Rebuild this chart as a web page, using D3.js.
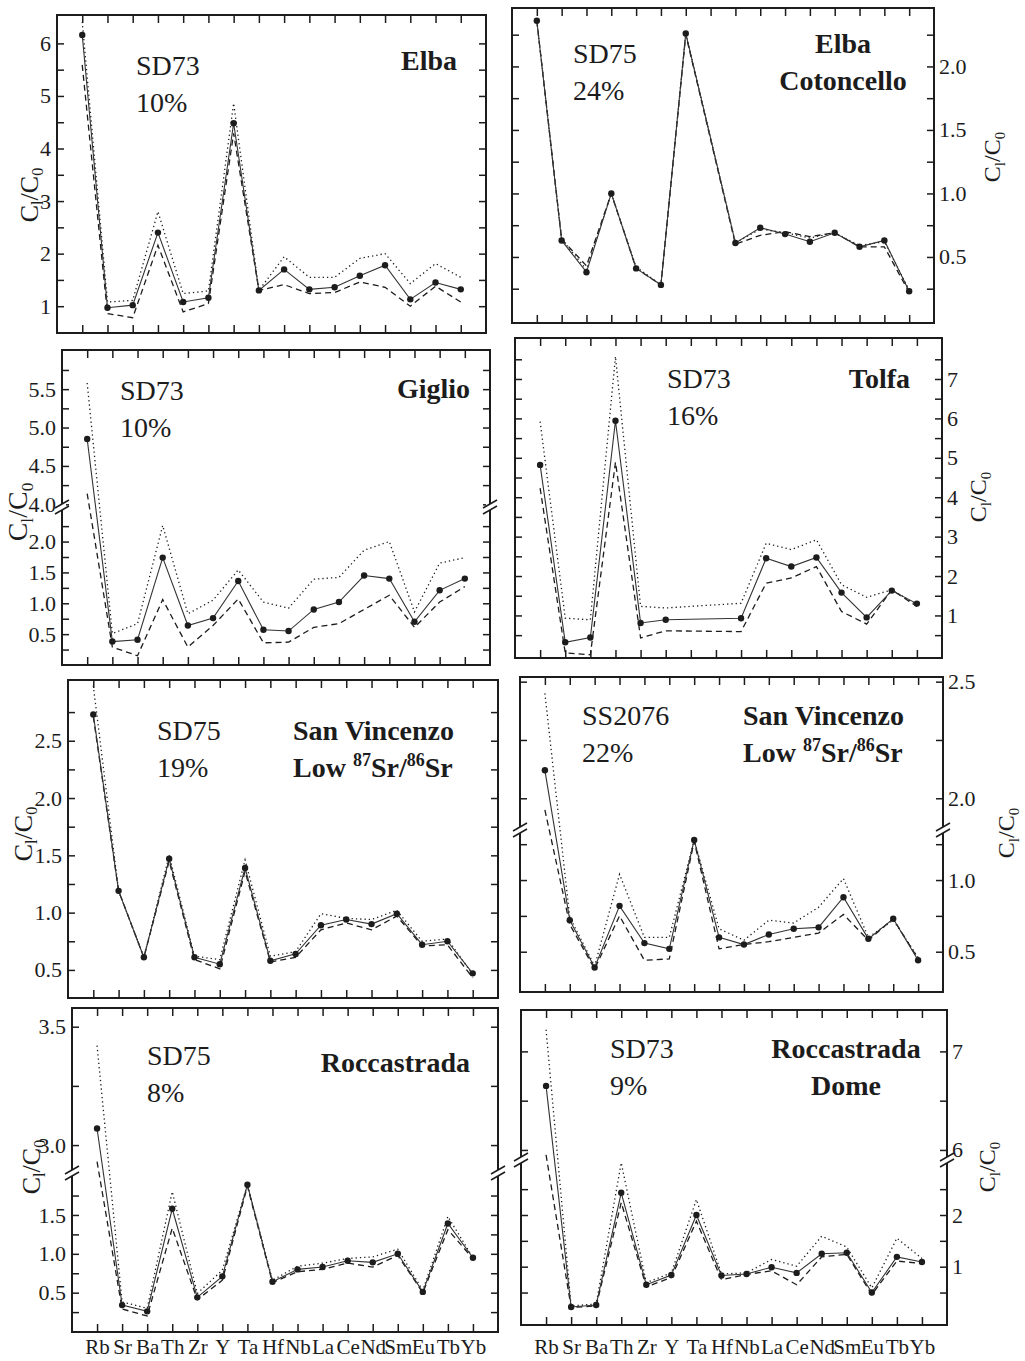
<!DOCTYPE html>
<html>
<head>
<meta charset="utf-8">
<script src="https://cdn.jsdelivr.net/npm/d3@7"></script>
<style>
  body { margin: 0; background: #fff; }
  svg { display: block; }
</style>
</head>
<body>
<svg id="fig" width="1025" height="1361"></svg>
<script>
// Trace elements along the x axis
const elements = ["Rb","Sr","Ba","Th","Zr","Y","Ta","Hf","Nb","La","Ce","Nd","Sm","Eu","Tb","Yb"];

// C_l/C_0 enrichment: mid model (solid, dots), upper bound (dotted), lower bound (dashed)
const elbaMid  = [6.16,0.97,1.02,2.40,1.08,1.16,4.48,1.30,1.70,1.32,1.36,1.58,1.78,1.13,1.45,1.32];
const elbaHigh = [6.41,1.08,1.11,2.80,1.24,1.29,4.86,1.30,1.94,1.55,1.55,1.91,2.00,1.43,1.81,1.55];
const elbaLow  = [5.59,0.86,0.78,2.16,0.89,1.05,4.29,1.30,1.41,1.24,1.26,1.46,1.36,1.00,1.38,1.08];

const cotoncelloMid  = [2.36,0.63,0.38,1.00,0.41,0.28,2.26,null,0.61,0.73,0.68,0.62,0.69,0.58,0.63,0.23];
const cotoncelloHigh = [2.36,0.64,0.40,1.00,0.42,0.28,2.26,null,0.61,0.72,0.69,0.65,0.69,0.59,0.62,0.24];
const cotoncelloLow  = [2.36,0.64,0.43,1.00,0.41,0.28,2.25,null,0.60,0.67,0.70,0.66,0.69,0.58,0.58,0.22];

const giglioMid  = [4.85,0.38,0.41,1.74,0.64,0.76,1.36,0.57,0.55,0.90,1.02,1.45,1.40,0.70,1.21,1.40];
const giglioHigh = [5.58,0.51,0.67,2.26,0.83,1.05,1.54,1.02,0.92,1.39,1.42,1.86,2.00,0.86,1.65,1.74];
const giglioLow  = [4.14,0.29,0.15,1.06,0.29,0.64,1.07,0.36,0.37,0.61,0.67,0.90,1.13,0.61,1.02,1.27];

const tolfaMid  = [4.82,0.32,0.44,5.94,0.81,0.89,null,null,0.93,2.45,2.24,2.47,1.58,0.95,1.63,1.30];
const tolfaHigh = [5.92,0.93,0.89,7.57,1.23,1.19,null,null,1.31,2.83,2.67,2.92,1.78,1.46,1.65,1.27];
const tolfaLow  = [4.23,0.05,0.00,4.89,0.43,0.61,null,null,0.59,1.82,1.95,2.24,1.10,0.78,1.65,1.23];

const sanVincenzoSD75Mid  = [2.73,1.19,0.61,1.47,0.61,0.55,1.39,0.58,0.64,0.89,0.94,0.90,0.99,0.72,0.75,0.47];
const sanVincenzoSD75High = [2.98,1.19,0.61,1.50,0.62,0.59,1.46,0.62,0.66,0.99,0.95,0.94,1.02,0.75,0.77,0.46];
const sanVincenzoSD75Low  = [2.71,1.19,0.61,1.45,0.59,0.51,1.36,0.57,0.61,0.85,0.91,0.85,0.97,0.71,0.72,0.43];

const sanVincenzoSS2076Mid  = [2.12,0.72,0.39,0.82,0.56,0.52,1.28,0.60,0.55,0.62,0.66,0.67,0.88,0.59,0.73,0.44];
const sanVincenzoSS2076High = [2.45,0.74,0.40,1.04,0.60,0.60,1.28,0.66,0.58,0.72,0.70,0.81,1.01,0.60,0.72,0.46];
const sanVincenzoSS2076Low  = [1.95,0.69,0.38,0.75,0.44,0.45,1.27,0.52,0.55,0.57,0.60,0.63,0.76,0.58,0.73,0.45];

const roccastradaMid  = [3.07,0.34,0.26,1.58,0.44,0.71,1.89,0.64,0.80,0.83,0.91,0.89,1.00,0.51,1.39,0.95];
const roccastradaHigh = [3.42,0.38,0.30,1.80,0.49,0.79,1.89,0.66,0.84,0.88,0.94,0.96,1.06,0.53,1.48,0.95];
const roccastradaLow  = [2.93,0.29,0.20,1.33,0.41,0.66,1.87,0.63,0.77,0.80,0.88,0.83,0.98,0.50,1.31,0.94];

const domeMid  = [6.65,0.22,0.26,2.43,0.65,0.84,2.00,0.83,0.86,0.99,0.88,1.25,1.27,0.50,1.19,1.09];
const domeHigh = [7.22,0.24,0.28,3.01,0.69,0.88,2.30,0.86,0.88,1.14,1.01,1.59,1.38,0.59,1.55,1.16];
const domeLow  = [5.95,0.21,0.24,2.24,0.61,0.79,1.88,0.75,0.85,0.92,0.65,1.19,1.24,0.46,1.11,1.06];

// Y tick values (all ticks) and the ones carrying a label
const elbaTicks = [1,1.5,2,2.5,3,3.5,4,4.5,5,5.5,6];
const elbaTickLabels = [1,2,3,4,5,6];
const cotoncelloTicks = [0.25,0.5,0.75,1,1.25,1.5,1.75,2,2.25];
const cotoncelloTickLabels = [0.5,1.0,1.5,2.0];
const giglioTicksLow = [0.25,0.5,0.75,1,1.25,1.5,1.75,2,2.25];
const giglioTickLabelsLow = [0.5,1.0,1.5,2.0];
const giglioTicksHigh = [4,4.25,4.5,4.75,5,5.25,5.5,5.75];
const giglioTickLabelsHigh = [4.0,4.5,5.0,5.5];
const tolfaTicks = [0.5,1,1.5,2,2.5,3,3.5,4,4.5,5,5.5,6,6.5,7,7.5];
const tolfaTickLabels = [1,2,3,4,5,6,7];
const svSD75Ticks = [0.5,0.75,1,1.25,1.5,1.75,2,2.25,2.5,2.75];
const svSD75TickLabels = [0.5,1.0,1.5,2.0,2.5];
const svSS2076TicksLow = [0.5,0.75,1,1.25];
const svSS2076TickLabelsLow = [0.5,1.0];
const svSS2076TicksHigh = [2,2.25,2.5];
const svSS2076TickLabelsHigh = [2.0,2.5];
const roccTicksLow = [0.25,0.5,0.75,1,1.25,1.5,1.75];
const roccTickLabelsLow = [0.5,1.0,1.5];
const roccTicksHigh = [3,3.25,3.5];
const roccTickLabelsHigh = [3.0,3.5];
const domeTicksLow = [0.5,1,1.5,2,2.5];
const domeTickLabelsLow = [1,2];
const domeTicksHigh = [6,6.5,7];
const domeTickLabelsHigh = [6,7];

const INK = "#1c1c1c";
const SERIF = "'Liberation Serif','Times New Roman',Times,serif";

// Panel layout: frame = [left, top, right, bottom]; segs = y-axis pieces (bottom first)
const panels = [
  { frame:[57,15,486,333], side:"left", fmt:"d",
    segs:[{d:[0.49,6.54], r:[333,15], ticks:elbaTicks, labels:elbaTickLabels}],
    mid:elbaMid, high:elbaHigh, low:elbaLow,
    sample:{x:136, y:75, lines:["SD73","10%"]},
    place:{x:457, y:70, anchor:"end", lines:[["Elba"]]},
    ylab:{x:29, y:195, size:26} },
  { frame:[512,8,934,323], side:"right", fmt:".1f",
    segs:[{d:[-0.02,2.46], r:[323,8], ticks:cotoncelloTicks, labels:cotoncelloTickLabels}],
    mid:cotoncelloMid, high:cotoncelloHigh, low:cotoncelloLow,
    sample:{x:573, y:63, lines:["SD75","24%"]},
    place:{x:843, y:53, anchor:"middle", lines:[["Elba"],["Cotoncello"]]},
    ylab:{x:992, y:157, size:24} },
  { frame:[62,350,490,665], side:"left", fmt:".1f", brk:507,
    segs:[{d:[0,2.56], r:[665,507], ticks:giglioTicksLow, labels:giglioTickLabelsLow},
          {d:[3.965,6.01], r:[507,350], ticks:giglioTicksHigh, labels:giglioTickLabelsHigh}],
    mid:giglioMid, high:giglioHigh, low:giglioLow,
    sample:{x:120, y:400, lines:["SD73","10%"]},
    place:{x:470, y:398, anchor:"end", lines:[["Giglio"]]},
    ylab:{x:18, y:512, size:28} },
  { frame:[515,338,942,658], side:"right", fmt:"d",
    segs:[{d:[-0.08,8.04], r:[658,338], ticks:tolfaTicks, labels:tolfaTickLabels}],
    mid:tolfaMid, high:tolfaHigh, low:tolfaLow,
    sample:{x:667, y:388, lines:["SD73","16%"]},
    place:{x:910, y:388, anchor:"end", lines:[["Tolfa"]]},
    ylab:{x:978, y:497, size:24} },
  { frame:[68,680,498,998], side:"left", fmt:".1f",
    segs:[{d:[0.255,3.03], r:[998,680], ticks:svSD75Ticks, labels:svSD75TickLabels}],
    mid:sanVincenzoSD75Mid, high:sanVincenzoSD75High, low:sanVincenzoSD75Low,
    sample:{x:157, y:740, lines:["SD75","19%"]},
    place:{x:293, y:740, anchor:"start", lines:[["San Vincenzo"],["Low ",["87"],"Sr/",["86"],"Sr"]]},
    ylab:{x:23, y:834, size:26} },
  { frame:[520,677,943,992], side:"right", fmt:".1f", brk:830,
    segs:[{d:[0.219,1.349], r:[992,830], ticks:svSS2076TicksLow, labels:svSS2076TickLabelsLow},
          {d:[1.864,2.52], r:[830,677], ticks:svSS2076TicksHigh, labels:svSS2076TickLabelsHigh}],
    mid:sanVincenzoSS2076Mid, high:sanVincenzoSS2076High, low:sanVincenzoSS2076Low,
    sample:{x:582, y:725, lines:["SS2076","22%"]},
    place:{x:743, y:725, anchor:"start", lines:[["San Vincenzo"],["Low ",["87"],"Sr/",["86"],"Sr"]]},
    ylab:{x:1006, y:833, size:24} },
  { frame:[72,1008,498,1332], side:"left", fmt:".1f", brk:1173, xlabels:true,
    segs:[{d:[-0.006,2.04], r:[1332,1173], ticks:roccTicksLow, labels:roccTickLabelsLow},
          {d:[2.882,3.579], r:[1173,1008], ticks:roccTicksHigh, labels:roccTickLabelsHigh}],
    mid:roccastradaMid, high:roccastradaHigh, low:roccastradaLow,
    sample:{x:147, y:1065, lines:["SD75","8%"]},
    place:{x:470, y:1072, anchor:"end", lines:[["Roccastrada"]]},
    ylab:{x:31, y:1167, size:26} },
  { frame:[521,1010,947,1325], side:"right", fmt:"d", brk:1160, xlabels:true,
    segs:[{d:[-0.128,3.064], r:[1325,1160], ticks:domeTicksLow, labels:domeTickLabelsLow},
          {d:[5.898,7.42], r:[1160,1010], ticks:domeTicksHigh, labels:domeTickLabelsHigh}],
    mid:domeMid, high:domeHigh, low:domeLow,
    sample:{x:610, y:1058, lines:["SD73","9%"]},
    place:{x:846, y:1058, anchor:"middle", lines:[["Roccastrada"],["Dome"]]},
    ylab:{x:987, y:1167, size:24} }
];

const LABEL_BASELINE = 1354; // element names under the bottom row

const svg = d3.select("#fig");
svg.append("rect").attr("width",1025).attr("height",1361).attr("fill","#fff");

function styleAxis(sel, size) {
  sel.select(".domain").remove();
  sel.selectAll(".tick line").attr("stroke", INK).attr("stroke-width", 1.5);
  sel.selectAll(".tick text")
    .attr("fill", INK)
    .attr("font-family", SERIF)
    .attr("font-size", size);
}

panels.forEach(p => {
  const [L, T, R, B] = p.frame;
  const g = svg.append("g");

  const x = d3.scaleLinear().domain([-1, elements.length]).range([L, R]);
  const ys = p.segs.map(s => d3.scaleLinear().domain(s.d).range(s.r));
  const y = v => (ys.length > 1 && v >= p.segs[1].d[0]) ? ys[1](v) : ys[0](v);
  const fmt = d3.format(p.fmt);

  // X ticks: bottom (with element names on the last row) and top, pointing inward
  const xb = g.append("g").attr("transform", `translate(0,${B})`)
    .call(d3.axisBottom(x).tickValues(d3.range(elements.length)).tickSize(-8)
      .tickFormat(i => p.xlabels ? elements[i] : ""));
  styleAxis(xb, 21);
  xb.selectAll(".tick text").attr("dy", null).attr("y", LABEL_BASELINE - B);
  const xt = g.append("g").attr("transform", `translate(0,${T})`)
    .call(d3.axisTop(x).tickValues(d3.range(elements.length)).tickSize(-8).tickFormat(""));
  styleAxis(xt, 21);

  // Y ticks on both sides, labels on the panel's outer side
  p.segs.forEach((s, k) => {
    const lbl = v => s.labels.some(u => Math.abs(u - v) < 1e-9) ? fmt(v) : "";
    const labelled = p.side === "left"
      ? d3.axisLeft(ys[k]).tickValues(s.ticks).tickSize(-7).tickPadding(6).tickFormat(lbl)
      : d3.axisRight(ys[k]).tickValues(s.ticks).tickSize(-7).tickPadding(5).tickFormat(lbl);
    const mirror = p.side === "left"
      ? d3.axisRight(ys[k]).tickValues(s.ticks).tickSize(-7).tickFormat("")
      : d3.axisLeft(ys[k]).tickValues(s.ticks).tickSize(-7).tickFormat("");
    const la = g.append("g").attr("transform", `translate(${p.side === "left" ? L : R},0)`).call(labelled);
    styleAxis(la, 22);
    const ma = g.append("g").attr("transform", `translate(${p.side === "left" ? R : L},0)`).call(mirror);
    styleAxis(ma, 22);
  });

  // Frame
  g.append("rect").attr("x", L).attr("y", T).attr("width", R - L).attr("height", B - T)
    .attr("fill", "none").attr("stroke", INK).attr("stroke-width", 2);

  // Axis break marks
  if (p.brk) {
    [L, R].forEach(bx => {
      g.append("rect").attr("x", bx - 4).attr("y", p.brk - 3).attr("width", 8).attr("height", 6).attr("fill", "#fff");
      [-3, 3].forEach(o => {
        g.append("line")
          .attr("x1", bx - 7).attr("y1", p.brk + o + 4)
          .attr("x2", bx + 7).attr("y2", p.brk + o - 4)
          .attr("stroke", INK).attr("stroke-width", 1.6);
      });
    });
  }

  // Series
  const pts = arr => arr.map((v, i) => ({i, v})).filter(d => d.v != null);
  const line = d3.line().x(d => x(d.i)).y(d => y(d.v));
  g.append("path").datum(pts(p.high)).attr("d", line)
    .attr("fill", "none").attr("stroke", INK).attr("stroke-width", 1.3).attr("stroke-dasharray", "1.3,3");
  g.append("path").datum(pts(p.low)).attr("d", line)
    .attr("fill", "none").attr("stroke", INK).attr("stroke-width", 1.3).attr("stroke-dasharray", "6,4");
  g.append("path").datum(pts(p.mid)).attr("d", line)
    .attr("fill", "none").attr("stroke", "#333").attr("stroke-width", 1.1);
  g.selectAll("circle.pt").data(pts(p.mid)).join("circle").attr("class", "pt")
    .attr("cx", d => x(d.i)).attr("cy", d => y(d.v)).attr("r", 3.2).attr("fill", INK);

  // Sample name and melt fraction
  p.sample.lines.forEach((t, k) => {
    g.append("text").attr("x", p.sample.x).attr("y", p.sample.y + k * 37)
      .attr("font-family", SERIF).attr("font-size", 28).attr("fill", INK).text(t);
  });

  // Locality (bold), with superscript isotope masses
  p.place.lines.forEach((parts, k) => {
    const t = g.append("text").attr("x", p.place.x).attr("y", p.place.y + k * 37)
      .attr("text-anchor", p.place.anchor)
      .attr("font-family", SERIF).attr("font-size", 28).attr("font-weight", "bold").attr("fill", INK);
    let shift = 0;
    parts.forEach(part => {
      if (Array.isArray(part)) {
        t.append("tspan").attr("font-size", 18).attr("dy", -11 - shift).text(part[0]);
        shift = -11;
      } else {
        t.append("tspan").attr("dy", -shift).text(part);
        shift = 0;
      }
    });
  });

  // Y-axis title C_l/C_0
  const fs = p.ylab.size;
  const yt = g.append("text")
    .attr("transform", `translate(${p.ylab.x + fs * 0.33},${p.ylab.y}) rotate(-90)`)
    .attr("text-anchor", "middle").attr("font-family", SERIF).attr("font-size", fs).attr("fill", INK);
  yt.append("tspan").text("C");
  yt.append("tspan").attr("font-size", fs * 0.62).attr("dy", fs * 0.22).text("l");
  yt.append("tspan").attr("dy", -fs * 0.22).text("/C");
  yt.append("tspan").attr("font-size", fs * 0.62).attr("dy", fs * 0.22).text("0");
});
</script>
</body>
</html>
